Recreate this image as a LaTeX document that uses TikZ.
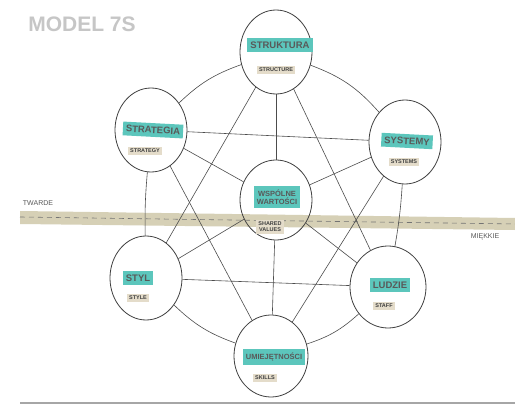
\documentclass[tikz,border=0pt]{standalone}
\usepackage{fontspec}
\setsansfont{Liberation Sans}
\usetikzlibrary{shapes.geometric}
\definecolor{zakreslacz}{RGB}{92,198,188}
\definecolor{bezowy}{RGB}{228,220,202}
\definecolor{pas}{RGB}{214,208,182}
\begin{document}
\begin{tikzpicture}[x=1pt, y=-1pt, line join=round,
  kolo/.style={ellipse, draw=black!75, line width=0.8pt, minimum width=72pt, minimum height=84pt, inner sep=0pt},
  pl/.style={fill=zakreslacz, text=black!65, font=\sffamily\bfseries\fontsize{9.5}{10}\selectfont, inner xsep=3pt, inner ysep=3.5pt, align=center},
  en/.style={fill=bezowy, text=black!75, font=\sffamily\bfseries\fontsize{5.5}{6}\selectfont, inner sep=2pt, align=center},
  linia/.style={draw=black!70, line width=0.6pt}]
  % 1. tlo i ramka
  \useasboundingbox (0,0) rectangle (515,412);
  \fill[white] (0,0) rectangle (515,412);
  \node[text=gray!45, font=\sffamily\bfseries\fontsize{21}{21}\selectfont] (tytul) at (82,24) {MODEL 7S};
  \draw[gray!70, line width=1.2pt] (20,403) -- (515,403);

  % 2. pas twarde / miekkie
  \fill[pas] (20,211) -- (515,218) -- (515,230) -- (20,224) -- cycle;
  \draw[dash pattern=on 5pt off 4pt, black!55, line width=0.6pt] (20,217) -- (515,224);
  \node[text=black!65, font=\sffamily\fontsize{7}{7}\selectfont] (twarde) at (38,203) {TWARDE};
  \node[text=black!65, font=\sffamily\fontsize{7}{7}\selectfont] (miekkie) at (485,237) {MIĘKKIE};

  % 3. kola
  \node[kolo] (str) at (276,52) {};
  \node[kolo] (strat) at (151,130) {};
  \node[kolo] (sys) at (405,142) {};
  \node[kolo, minimum height=80pt] (wsp) at (276,200) {};
  \node[kolo] (sty) at (146,278) {};
  \node[kolo, minimum width=76pt, minimum height=82pt] (lud) at (388,287) {};
  \node[kolo, minimum width=74pt, minimum height=82pt] (umi) at (271,356) {};

  % 4. polaczenia
  \draw[linia] (str) to[bend left=14] (sys);
  \draw[linia] (sys) to[bend left=3] (lud);
  \draw[linia] (lud) to[bend left=12] (umi);
  \draw[linia] (umi) to[bend left=12] (sty);
  \draw[linia] (sty) to[bend left=3] (strat);
  \draw[linia] (strat) to[bend left=12] (str);
  \draw[linia] (strat) -- (sys);
  \draw[linia] (sty) -- (lud);
  \draw[linia] (str) -- (wsp);
  \draw[linia] (wsp) -- (umi);
  \draw[linia] (strat) -- (wsp);
  \draw[linia] (sys) -- (wsp);
  \draw[linia] (sty) -- (wsp);
  \draw[linia] (lud) -- (wsp);
  \draw[linia] (str) -- (sty);
  \draw[linia] (str) -- (lud);
  \draw[linia] (strat) -- (umi);
  \draw[linia] (sys) -- (umi);

  % 5. napisy
  \node[pl] (str-pl) at (280,45) {STRUKTURA};
  \node[en] (str-en) at (276,70) {STRUCTURE};
  \node[pl, rotate=-3] (strat-pl) at (153,130) {STRATEGIA};
  \node[en] (strat-en) at (145,151) {STRATEGY};
  \node[pl, rotate=-3] (sys-pl) at (407,141) {SYSTEMY};
  \node[en] (sys-en) at (404,162) {SYSTEMS};
  \node[pl, font=\sffamily\bfseries\fontsize{7.5}{8.5}\selectfont] (wsp-pl) at (277,197) {WSPÓLNE\\WARTOŚCI};
  \node[en] (wsp-en) at (270,227) {SHARED\\VALUES};
  \node[pl] (sty-pl) at (138,278) {STYL};
  \node[en] (sty-en) at (138,298) {STYLE};
  \node[pl] (lud-pl) at (390,285) {LUDZIE};
  \node[en] (lud-en) at (384,306) {STAFF};
  \node[pl, font=\sffamily\bfseries\fontsize{7.5}{8.5}\selectfont] (umi-pl) at (274,357) {UMIEJĘTNOŚCI};
  \node[en] (umi-en) at (265,378) {SKILLS};
\end{tikzpicture}
\end{document}
